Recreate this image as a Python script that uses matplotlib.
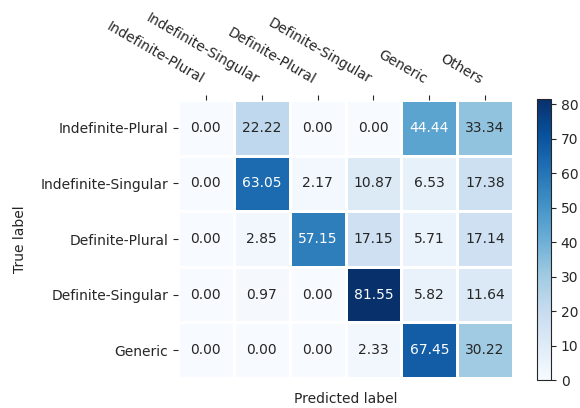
import numpy as np
import matplotlib
matplotlib.use("Agg")
import matplotlib.pyplot as plt

pred_labels = ["Indefinite-Plural", "Indefinite-Singular", "Definite-Plural",
               "Definite-Singular", "Generic", "Others"]
true_labels = ["Indefinite-Plural", "Indefinite-Singular", "Definite-Plural",
               "Definite-Singular", "Generic"]

row_ip = [0.00, 22.22, 0.00, 0.00, 44.44, 33.34]
row_is = [0.00, 63.05, 2.17, 10.87, 6.53, 17.38]
row_dp = [0.00, 2.85, 57.15, 17.15, 5.71, 17.14]
row_ds = [0.00, 0.97, 0.00, 81.55, 5.82, 11.64]
row_g = [0.00, 0.00, 0.00, 2.33, 67.45, 30.22]

cm = np.array([row_ip, row_is, row_dp, row_ds, row_g])
text_color = "#262626"

fig = plt.figure(figsize=(5.8, 4.08), dpi=100)
ax = fig.add_axes([0.3069, 0.0735, 0.5776, 0.6814])
cax = fig.add_axes([0.9259, 0.0686, 0.0241, 0.689])

mesh = ax.pcolormesh(cm, cmap="Blues", vmin=0, vmax=cm.max(),
                     edgecolors="white", linewidth=2)
ax.set_xlim(0, cm.shape[1])
ax.set_ylim(cm.shape[0], 0)
for s in ax.spines.values():
    s.set_visible(False)

# white text on the dark half of the colour range
thresh = cm.max() / 2
for i in range(cm.shape[0]):
    for j in range(cm.shape[1]):
        ax.text(j + 0.5, i + 0.5, f"{cm[i, j]:.2f}", ha="center", va="center",
                fontsize=10, color="white" if cm[i, j] > thresh else text_color)

ax.xaxis.tick_top()
ax.set_xticks(np.arange(cm.shape[1]) + 0.5)
ax.set_xticklabels(pred_labels, rotation=-30, ha="right", color=text_color)
ax.set_yticks(np.arange(cm.shape[0]) + 0.5)
ax.set_yticklabels(true_labels, color=text_color)
ax.tick_params(colors=text_color, labelcolor=text_color)
ax.tick_params(axis="x", pad=6)
ax.set_xlabel("Predicted label", color=text_color, labelpad=10)
ax.set_ylabel("True label", color=text_color, labelpad=10)

cb = fig.colorbar(mesh, cax=cax)
cb.outline.set_edgecolor(text_color)
cb.ax.tick_params(colors=text_color)

fig.savefig("out.png", dpi=100)
